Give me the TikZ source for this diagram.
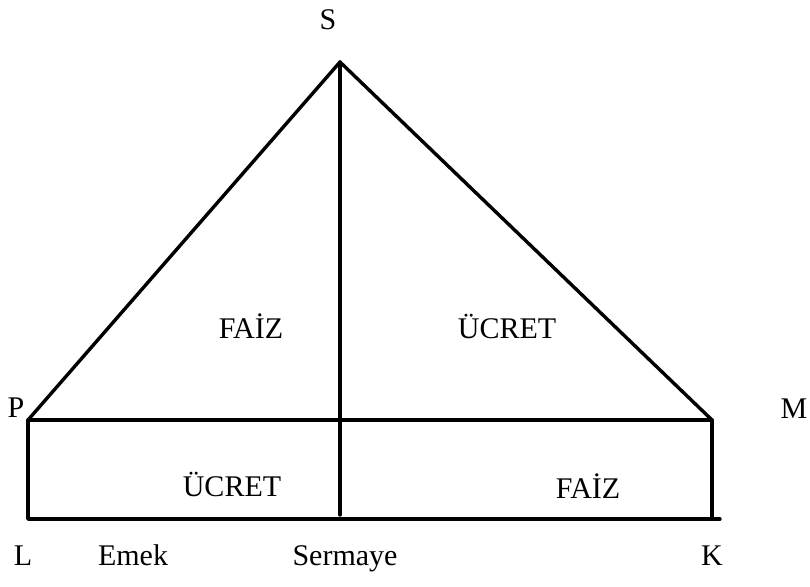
\documentclass[tikz,border=0pt]{standalone}
\usepackage{fontspec}
\setmainfont{Liberation Serif}
\begin{document}
\begin{tikzpicture}[x=1pt,y=-1pt,
  edge/.style={line width=3.4pt, line join=round, line cap=round},
  lbl/.style={font=\fontsize{30}{32}\selectfont, inner sep=0pt, anchor=base}]
\useasboundingbox (0,0) rectangle (810,586);
\coordinate (S) at (340,62);
\coordinate (P) at (28,420);
\coordinate (M) at (712,420);
\coordinate (L) at (28,519);
\coordinate (K) at (712,519);
\coordinate (Kr) at (720,519);
\coordinate (Bot) at (340,515);
\draw[edge] (P) -- (S) -- (M);
\draw[edge] (P) -- (M);
\draw[edge] (P) -- (L) -- (Kr);
\draw[edge] (M) -- (K);
\draw[edge] (S) -- (Bot);
\node[lbl] (tS) at (328,30) {S};
\node[lbl] (tP) at (16,417) {P};
\node[lbl] (tM) at (794,418) {M};
\node[lbl] (tL) at (23,565) {L};
\node[lbl] (tK) at (712,565) {K};
\node[lbl] (emek) at (133,565) {Emek};
\node[lbl] (serm) at (345,565) {Sermaye};
\node[lbl] (f1) at (251,338) {FAİZ};
\node[lbl] (u1) at (507,338) {ÜCRET};
\node[lbl] (u2) at (232,496) {ÜCRET};
\node[lbl] (f2) at (588,498) {FAİZ};
\end{tikzpicture}
\end{document}
